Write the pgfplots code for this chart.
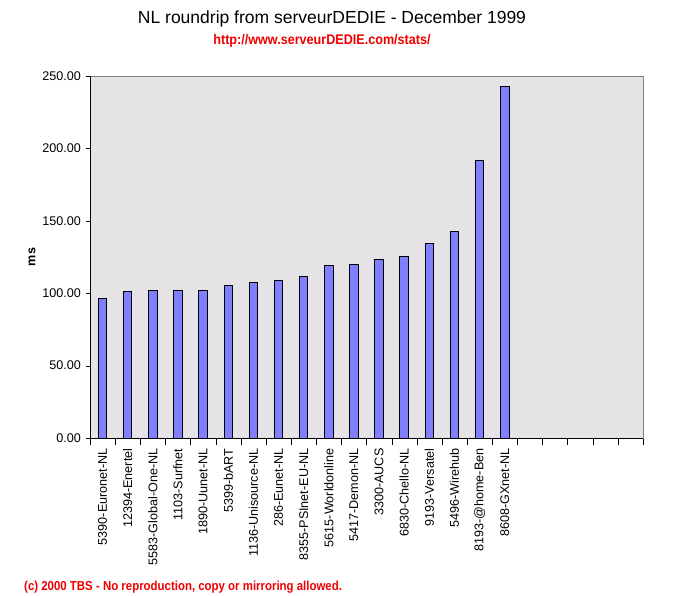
\documentclass[border=0pt]{standalone}
\usepackage{pgfplots}
\pgfplotsset{compat=1.18}
\usepackage{fontspec}
\setmainfont{Liberation Sans}
\definecolor{plotbg}{RGB}{230,227,230}
\definecolor{barblue}{RGB}{128,128,255}
\definecolor{webred}{RGB}{238,0,0}
\begin{document}
\begin{tikzpicture}
\path[use as bounding box] (0pt,0pt) rectangle (674pt,-596pt);
\begin{axis}[
  at={(90pt,-438pt)}, anchor=south west,
  width=553pt, height=362pt, scale only axis,
  xmin=-0.5, xmax=21.5, ymin=0, ymax=250,
  axis background/.style={fill=plotbg},
  axis line style={draw=gray},
  ytick={0,50,...,250},
  ytick pos=left, ytick align=outside, major tick length=4pt,
  yticklabel style={xshift=-1.5pt, /pgf/number format/.cd, fixed, fixed zerofill, precision=2, assume math mode=true},
  xtick={0,...,16},
  xticklabels={5390-Euronet-NL,12394-Enertel,5583-Global-One-NL,1103-Surfnet,1890-Uunet-NL,5399-bART,1136-Unisource-NL,286-Eunet-NL,8355-PSInet-EU-NL,5615-Worldonline,5417-Demon-NL,3300-AUCS,6830-Chello-NL,9193-Versatel,5496-Wirehub,8193-@home-Ben,8608-GXnet-NL},
  major x tick style={draw=none},
  minor xtick={-0.5,0.5,...,21.5},
  minor tick length=7pt,
  xtick pos=bottom, xtick align=center,
  xticklabel style={rotate=90, anchor=east, xshift=-3pt},
  tick label style={font=\fontsize{12.6}{15}\selectfont},
  tick style={black},
  ybar, bar width=8.5pt,
]
\addplot[fill=barblue, draw=black, line width=1pt] coordinates {
(0,96.5) (1,101.3) (2,102.0) (3,102.0) (4,102.0) (5,105.4) (6,107.5) (7,108.9) (8,111.7)
(9,119.3) (10,120.0) (11,123.4) (12,125.5) (13,134.5) (14,142.7) (15,191.8) (16,242.9)};
\draw[black, line width=1pt] (rel axis cs:0,1) -- (rel axis cs:0,0) -- (rel axis cs:1,0);
\end{axis}
\node at (332pt,-19pt) {\fontsize{17.5}{20}\selectfont NL roundrip from serveurDEDIE - December 1999};
\node[text=webred] at (322pt,-41pt) {\scalebox{0.9}[1]{\fontsize{14}{16}\selectfont\bfseries http://www.serveurDEDIE.com/stats/}};
\node[rotate=90] at (32pt,-257pt) {\fontsize{12.6}{15}\selectfont\bfseries ms};
\node[text=webred, anchor=west, inner sep=0pt] at (24pt,-587pt) {\scalebox{0.88}[1]{\fontsize{13}{15}\selectfont\bfseries (c) 2000 TBS - No reproduction, copy or mirroring allowed.}};
\end{tikzpicture}
\end{document}
